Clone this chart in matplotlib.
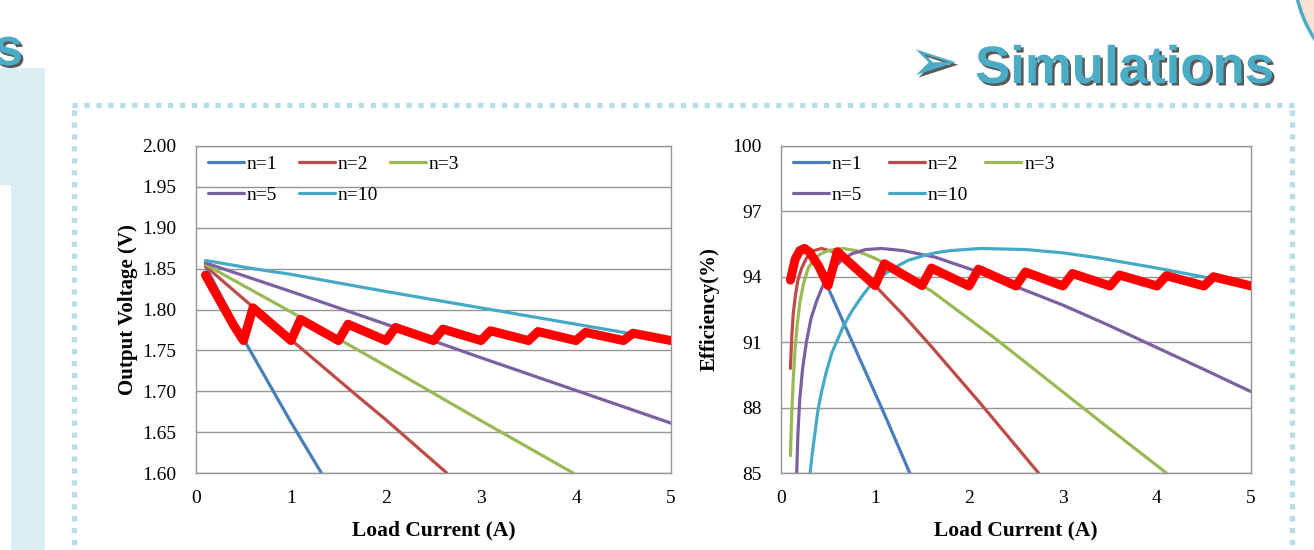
import matplotlib
matplotlib.use('Agg')
import matplotlib.pyplot as plt
import matplotlib.patheffects as pe
from matplotlib.lines import Line2D
from matplotlib.patches import Rectangle, Ellipse

# output voltage (V) vs load current (A)
vi_n1 = [0.1, 0.5, 1.0, 1.32]
v_n1 = [1.853, 1.764, 1.662, 1.600]
vi_n2 = [0.1, 1.0, 1.67, 2.0, 2.64]
v_n2 = [1.853, 1.763, 1.697, 1.665, 1.600]
vi_n3 = [0.1, 1.0, 2.0, 3.0, 3.97]
v_n3 = [1.855, 1.797, 1.731, 1.664, 1.600]
vi_n5 = [0.1, 1.0, 2.0, 3.0, 4.0, 5.0]
v_n5 = [1.857, 1.822, 1.782, 1.741, 1.701, 1.661]
vi_n10 = [0.1, 0.3, 0.6, 1.0, 2.0, 3.0, 4.0, 5.0]
v_n10 = [1.860, 1.856, 1.850, 1.843, 1.822, 1.802, 1.782, 1.762]
vi_var = [0.1, 0.4, 0.5, 0.6, 1.0, 1.1, 1.5, 1.6, 2.0, 2.1, 2.5, 2.6, 3.0,
          3.1, 3.5, 3.6, 4.0, 4.1, 4.5, 4.6, 5.0]
v_var = [1.842, 1.780, 1.762, 1.802, 1.762, 1.788, 1.762, 1.782, 1.762, 1.778,
         1.762, 1.776, 1.762, 1.774, 1.762, 1.773, 1.762, 1.772, 1.762, 1.771, 1.762]

# efficiency (%) vs load current (A)
ei_n1 = [0.1, 0.15, 0.2, 0.25, 0.3, 0.4, 0.5, 0.8, 1.1, 1.37]
e_n1 = [93.8, 94.8, 95.2, 95.3, 95.15, 94.5, 93.5, 90.6, 87.7, 85.0]
ei_n2 = [0.1, 0.115, 0.13, 0.155, 0.18, 0.22, 0.27, 0.35, 0.43, 0.6, 0.8, 1.0,
         1.3, 1.6, 2.12, 2.74]
e_n2 = [89.8, 91.3, 92.3, 93.2, 93.85, 94.4, 94.85, 95.2, 95.3, 95.1, 94.5,
        93.6, 92.25, 90.8, 88.2, 85.0]
ei_n3 = [0.1, 0.115, 0.13, 0.15, 0.17, 0.2, 0.24, 0.29, 0.35, 0.42, 0.5, 0.66,
         0.8, 1.0, 1.2, 1.5, 1.6, 2.3, 3.4, 4.1]
e_n3 = [85.8, 87.8, 89.3, 90.7, 91.7, 92.8, 93.7, 94.4, 94.8, 95.05, 95.2, 95.3,
        95.2, 94.85, 94.4, 93.6, 93.35, 91.1, 87.35, 85.0]
ei_n5 = [0.167, 0.18, 0.2, 0.23, 0.27, 0.32, 0.38, 0.47, 0.56, 0.645, 0.75, 0.9,
         1.07, 1.3, 1.64, 2.05, 2.5, 3.0, 3.5, 4.0, 4.5, 5.0]
e_n5 = [85.0, 86.8, 88.4, 89.8, 91.0, 92.1, 92.9, 93.85, 94.4, 94.75, 95.05,
        95.25, 95.3, 95.2, 94.9, 94.3, 93.55, 92.7, 91.75, 90.75, 89.75, 88.73]
ei_n10 = [0.31, 0.33, 0.36, 0.39, 0.43, 0.48, 0.54, 0.6, 0.66, 0.75, 0.86, 0.95,
          1.11, 1.2, 1.35, 1.5, 1.64, 1.8, 2.12, 2.6, 3.0, 3.4, 4.0, 4.55, 5.0]
e_n10 = [85.0, 85.8, 86.8, 87.8, 88.7, 89.6, 90.5, 91.1, 91.7, 92.4, 93.1, 93.6,
         94.15, 94.4, 94.75, 94.95, 95.1, 95.2, 95.3, 95.25, 95.1, 94.85, 94.4,
         93.95, 93.55]
ei_var = [0.1, 0.15, 0.2, 0.25, 0.3, 0.4, 0.5, 0.6, 1.0, 1.1, 1.5, 1.6, 2.0, 2.1,
          2.5, 2.6, 3.0, 3.1, 3.5, 3.6, 4.0, 4.1, 4.5, 4.6, 5.0]
e_var = [93.85, 94.8, 95.2, 95.3, 95.15, 94.5, 93.6, 95.15, 93.6, 94.6, 93.6,
         94.4, 93.58, 94.35, 93.58, 94.22, 93.58, 94.15, 93.58, 94.08, 93.58,
         94.05, 93.58, 94.0, 93.58]

labels = ['n=1', 'n=2', 'n=3', 'n=5', 'n=10']
colors = ['#4a7ebb', '#be4b48', '#98b954', '#7d60a0', '#46aac5']
v_series = [(vi_n1, v_n1), (vi_n2, v_n2), (vi_n3, v_n3), (vi_n5, v_n5), (vi_n10, v_n10)]
e_series = [(ei_n1, e_n1), (ei_n2, e_n2), (ei_n3, e_n3), (ei_n5, e_n5), (ei_n10, e_n10)]

W, H = 1314, 550
fig = plt.figure(figsize=(W / 100, H / 100), dpi=100)
fig.patch.set_facecolor('white')

serif = 'Liberation Serif'
grid_col = '#969696'
teal = '#4bacc6'


def fx(px):
    return px / W


def fy(py):
    return (H - py) / H


def draw_chart(ax, series, xs_var, ys_var, ylim, yticks, yfmt, ylabel, ypad, colsp):
    handles = []
    for (xs, ys), c, lab in zip(series, colors, labels):
        h, = ax.plot(xs, ys, color=c, lw=2.3, label=lab, solid_capstyle='round',
                     solid_joinstyle='round')
        handles.append(h)
    ax.plot(xs_var, ys_var, color='#ff0000', lw=6.5, solid_joinstyle='round',
            solid_capstyle='round', zorder=5)
    ax.set_xlim(0, 5)
    ax.set_ylim(*ylim)
    ax.set_xticks(range(6))
    ax.set_yticks(yticks)
    ax.set_yticklabels([yfmt.format(t) for t in yticks])
    ax.grid(axis='y', color=grid_col, lw=1)
    ax.set_axisbelow(True)
    for s in ax.spines.values():
        s.set_color(grid_col)
        s.set_linewidth(1)
    ax.tick_params(axis='y', length=0, pad=14, labelsize=14)
    ax.tick_params(axis='x', length=0, pad=12, labelsize=14)
    for t in ax.get_xticklabels() + ax.get_yticklabels():
        t.set_fontfamily(serif)
    ax.set_xlabel('Load Current (A)', fontsize=15.5, fontweight='bold',
                  fontfamily=serif, labelpad=10)
    ax.set_ylabel(ylabel, fontsize=15, fontweight='bold', fontfamily=serif,
                  labelpad=ypad)
    leg_kw = dict(loc='upper left', frameon=False, borderpad=0, borderaxespad=0,
                  handlelength=1.85, handletextpad=0.15, columnspacing=colsp,
                  prop={'family': serif, 'size': 14})
    x0 = 12 / (ax.get_position().width * W)
    leg1 = ax.legend(handles[:3], labels[:3], ncol=3,
                     bbox_to_anchor=(x0, 0.972), **leg_kw)
    ax.add_artist(leg1)
    ax.legend(handles[3:], labels[3:], ncol=2,
              bbox_to_anchor=(x0, 0.876), **leg_kw)


ax1 = fig.add_axes([fx(196), fy(473), fx(671) - fx(196), fy(146) - fy(473)])
draw_chart(ax1, v_series, vi_var, v_var, (1.60, 2.00),
           [1.60 + 0.05 * k for k in range(9)], '{:.2f}',
           'Output Voltage (V)', 3, 1.1)

ax2 = fig.add_axes([fx(781), fy(473), fx(1251) - fx(781), fy(146) - fy(473)])
draw_chart(ax2, e_series, ei_var, e_var, (85, 100), [85, 88, 91, 94, 97, 100],
           '{:d}', 'Efficiency(%)', 9, 1.37)

# slide decoration: side panel, dotted frame, corner circle
fig.add_artist(Rectangle((0, 0), fx(45), fy(68), transform=fig.transFigure,
                         facecolor='#daeef3', edgecolor='none', zorder=0))
fig.add_artist(Rectangle((0, 0), fx(11), fy(185), transform=fig.transFigure,
                         facecolor='white', edgecolor='none', zorder=0))

dot_kw = dict(transform=fig.transFigure, color='#b7dde8', lw=3.8,
              dashes=(1, 1.26), dash_capstyle='butt', zorder=1)
fig.add_artist(Line2D([fx(72), fx(1294)], [fy(105), fy(105)], **dot_kw))
fig.add_artist(Line2D([fx(74), fx(74)], [fy(110), 0], **dot_kw))
fig.add_artist(Line2D([fx(1292), fx(1292)], [fy(110), 0], **dot_kw))

fig.add_artist(Ellipse((fx(1420), fy(-30)), 2 * 126 / W, 2 * 126 / H,
                       transform=fig.transFigure, facecolor='#fbe2d0',
                       edgecolor=teal, lw=2.5, zorder=1))

shadow = [pe.SimplePatchShadow(offset=(1.8, -1.8), shadow_rgbFace='#222222', alpha=0.75),
          pe.Normal()]
fig.text(fx(975), fy(83), 'Simulations', fontsize=38, fontweight='bold',
         fontfamily='Liberation Sans', color=teal, ha='left', va='baseline',
         path_effects=shadow)
fig.text(fx(934), fy(64), '\u27a2', fontsize=42, fontfamily='DejaVu Sans',
         color=teal, ha='center', va='center', path_effects=shadow)
fig.text(fx(23), fy(65), 's', fontsize=38, fontweight='bold',
         fontfamily='Liberation Sans', color=teal, ha='right', va='baseline',
         path_effects=shadow)

fig.savefig('out.png', dpi=100, facecolor='white')
